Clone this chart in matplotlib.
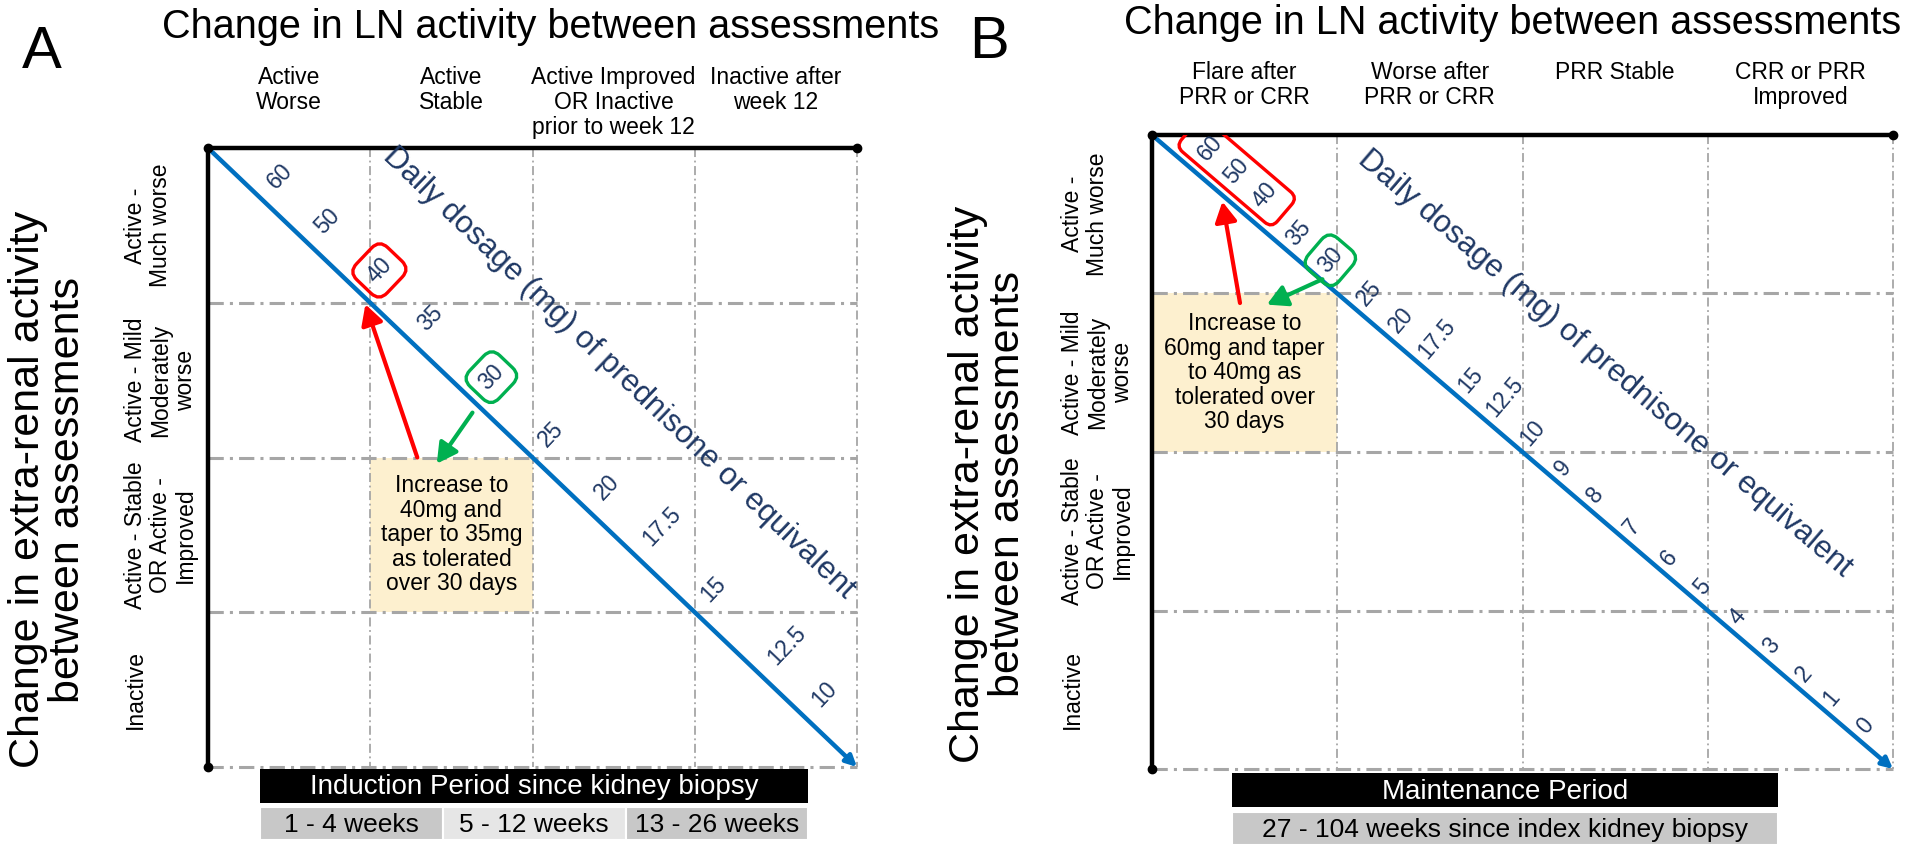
import math
import matplotlib
matplotlib.use('Agg')
import matplotlib.pyplot as plt
from matplotlib.patches import Rectangle, FancyBboxPatch
from matplotlib.transforms import Affine2D

plt.rcParams['font.family'] = ['Liberation Sans', 'DejaVu Sans']

# ---------------- data ----------------
title_text = 'Change in LN activity between assessments'
y_title = 'Change in extra-renal activity\nbetween assessments'
row_labels = ['Active -\nMuch worse',
              'Active - Mild\nModerately\nworse',
              'Active - Stable\nOR Active -\nImproved',
              'Inactive']
col_labels_A = ['Active\nWorse', 'Active\nStable',
                'Active Improved\nOR Inactive\nprior to week 12',
                'Inactive after\nweek 12']
col_labels_B = ['Flare after\nPRR or CRR', 'Worse after\nPRR or CRR',
                'PRR Stable', 'CRR or PRR\nImproved']
doses_A = ['60', '50', '40', '35', '30', '25', '20', '17.5', '15', '12.5', '10']
dose_pos_A = [0.32, 0.61, 0.93, 1.24, 1.62, 1.99, 2.33, 2.63, 2.99, 3.40, 3.67]
doses_B = ['60', '50', '40', '35', '30', '25', '20', '17.5', '15', '12.5', '10',
           '9', '8', '7', '6', '5', '4', '3', '2', '1', '0']
dose_pos_B = [0.215, 0.36, 0.51, 0.72, 0.89, 1.10, 1.27, 1.43, 1.645, 1.80, 1.98,
              2.17, 2.34, 2.54, 2.74, 2.92, 3.11, 3.29, 3.47, 3.62, 3.80]
dose_axis_label = 'Daily dosage (mg) of prednisone or equivalent'
red_doses_A = ['40']
green_doses_A = ['30']
red_doses_B = ['60', '50', '40']
green_doses_B = ['30']
note_A = 'Increase to\n40mg and\ntaper to 35mg\nas tolerated\nover 30 days'
note_B = 'Increase to\n60mg and taper\nto 40mg as\ntolerated over\n30 days'
note_cell_A = (1, 2)   # (column, row)
note_cell_B = (0, 1)
red_arrow_A = [(1.29, 2.00), (0.97, 1.01)]     # tail, head (cell units)
green_arrow_A = [(1.63, 1.71), (1.41, 2.04)]
red_arrow_B = [(0.475, 1.06), (0.38, 0.42)]
green_arrow_B = [(0.92, 0.91), (0.62, 1.07)]
period_A = 'Induction Period since kidney biopsy'
weeks_A = ['1 - 4 weeks', '5 - 12 weeks', '13 - 26 weeks']
period_B = 'Maintenance Period'
weeks_B = ['27 - 104 weeks since index kidney biopsy']

# ---------------- style ----------------
NAVY = '#1f3864'
BLUE = '#0070c0'
RED = '#ff0000'
GREEN = '#00b050'
YELLOW = '#fdf0cf'
GRID = '#a6a6a6'
DARKCELL = '#c8c8c8'
LIGHTCELL = '#e6e6e6'

W, H = 1920, 847
fig = plt.figure(figsize=(W / 100, H / 100), dpi=100)


def px_axes(left, top, right, bottom):
    return fig.add_axes([left / W, 1 - bottom / H, (right - left) / W, (bottom - top) / H])


def ftext(x, y, s, **kw):
    fig.text(x / W, 1 - y / H, s, **kw)


def draw_panel(ax, letter, letter_xy, title_xy, title_size, col_labels, header_off,
               rowlab_off, ylab_off, doses, dose_pos, gap_px, box_gap,
               red_doses, green_doses, note, note_cell, red_arrow, green_arrow,
               period, weeks, bar_x, bar_y):
    n = 4
    ax.set_xlim(0, n)
    ax.set_ylim(n, 0)
    ax.axis('off')

    # yellow note cell
    c, r = note_cell
    ax.add_patch(Rectangle((c, r), 1, 1, fc=YELLOW, ec='none', zorder=0.5))
    ax.text(c + 0.5, r + 0.5, note, ha='center', va='center', fontsize=16.5,
            linespacing=1.08, zorder=2)

    # grid
    for i in range(1, n + 1):
        ax.plot([i, i], [0, n], color=GRID, lw=1.3, ls=(0, (5, 2, 1, 2)),
                zorder=1, clip_on=False)
        ax.plot([0, n], [i, i], color=GRID, lw=2.2, ls=(0, (5, 2, 1, 2)),
                zorder=1, clip_on=False)
    ax.plot([0, n], [0, 0], color='black', lw=3.2, zorder=3, clip_on=False)
    ax.plot([0, 0], [0, n], color='black', lw=3.2, zorder=3, clip_on=False)
    ax.plot([0, n, 0], [0, 0, n], 'o', color='black', ms=6, zorder=4, clip_on=False)

    # column headers
    for i, lab in enumerate(col_labels):
        ax.annotate(lab, xy=(i + 0.5, 0), xytext=(0, header_off),
                    textcoords='offset pixels', ha='center', va='top',
                    fontsize=16.5, linespacing=1.12, annotation_clip=False)
    # row labels
    for j, lab in enumerate(row_labels):
        ax.annotate(lab, xy=(0, j + 0.5), xytext=(rowlab_off, 0),
                    textcoords='offset pixels', ha='left', va='center',
                    rotation=90, fontsize=16.5, linespacing=1.12,
                    multialignment='center', annotation_clip=False)
    # big y label
    ax.annotate(y_title, xy=(0, 2.0), xytext=(ylab_off, -32),
                textcoords='offset pixels', ha='center', va='center',
                rotation=90, fontsize=31, linespacing=0.97,
                multialignment='center', annotation_clip=False)

    # diagonal dose line
    ax.annotate('', xy=(n, n), xytext=(0, 0),
                arrowprops=dict(arrowstyle='-|>', color=BLUE, lw=3.2,
                                shrinkA=0, shrinkB=0, mutation_scale=16),
                zorder=3, annotation_clip=False)
    p0 = ax.transData.transform((0, 0))
    p1 = ax.transData.transform((n, n))
    ang = math.degrees(math.atan2(p1[1] - p0[1], p1[0] - p0[0]))
    perp = ang + 90
    nx, ny = math.cos(math.radians(perp)), math.sin(math.radians(perp))
    for lab, s in zip(doses, dose_pos):
        g = box_gap if lab in red_doses and len(red_doses) > 1 else gap_px
        bbox = None
        if lab in red_doses and len(red_doses) == 1:
            bbox = dict(boxstyle='round,pad=0.42,rounding_size=0.5', fc='none',
                        ec=RED, lw=2.4)
        if lab in green_doses:
            bbox = dict(boxstyle='round,pad=0.38,rounding_size=0.5', fc='none',
                        ec=GREEN, lw=2.4)
        ax.annotate(lab, xy=(s, s), xytext=(nx * g, ny * g),
                    textcoords='offset pixels', rotation=perp,
                    rotation_mode='anchor', ha='left', va='center',
                    fontsize=16.5, color=NAVY, bbox=bbox, zorder=5,
                    annotation_clip=False)
    # multi-label red box
    if len(red_doses) > 1:
        idx = [doses.index(d) for d in red_doses]
        s0, s1 = dose_pos[min(idx)], dose_pos[max(idx)]
        q0 = ax.transData.transform((s0, s0))
        q1 = ax.transData.transform((s1, s1))
        off = box_gap + 12
        cx = (q0[0] + q1[0]) / 2 + nx * off
        cy = (q0[1] + q1[1]) / 2 + ny * off
        length = math.hypot(q1[0] - q0[0], q1[1] - q0[1]) + 54
        width = 40
        patch = FancyBboxPatch((-length / 2, -width / 2), length, width,
                               boxstyle='round,pad=0,rounding_size=9',
                               fc='none', ec=RED, lw=2.4, zorder=5,
                               transform=Affine2D().rotate_deg(ang).translate(cx, cy))
        ax.add_patch(patch)

    # dose axis label
    sm = 2.02
    ax.annotate(dose_axis_label, xy=(sm, sm), xytext=(nx * 121, ny * 121),
                textcoords='offset pixels', rotation=ang, rotation_mode='anchor',
                ha='center', va='center', fontsize=22.5, color=NAVY,
                annotation_clip=False)

    # arrows
    for (tail, head), col in ((red_arrow, RED), (green_arrow, GREEN)):
        ax.annotate('', xy=head, xytext=tail,
                    arrowprops=dict(arrowstyle='-|>,head_length=0.55,head_width=0.3',
                                    color=col, lw=3, shrinkA=0, shrinkB=0,
                                    mutation_scale=22),
                    zorder=6, annotation_clip=False)

    # period bars
    x0, x1 = bar_x
    (b0, b1), (g0, g1) = bar_y
    ax.add_patch(Rectangle((x0, b0), x1 - x0, b1 - b0, fc='black', ec='none',
                           zorder=4, clip_on=False))
    ax.text((x0 + x1) / 2, (b0 + b1) / 2 + 0.01, period, ha='center', va='center',
            color='white', fontsize=20, zorder=5, clip_on=False)
    wcell = (x1 - x0) / len(weeks)
    for k, wk in enumerate(weeks):
        fc = DARKCELL if k % 2 == 0 else LIGHTCELL
        ax.add_patch(Rectangle((x0 + k * wcell, g0), wcell, g1 - g0, fc=fc,
                               ec='white', lw=1.5, zorder=4, clip_on=False))
        ax.text(x0 + (k + 0.5) * wcell, (g0 + g1) / 2 + 0.01, wk, ha='center',
                va='center', fontsize=19, zorder=5, clip_on=False)

    # letter and title
    ftext(letter_xy[0], letter_xy[1], letter, ha='center', va='center', fontsize=43)
    ftext(title_xy[0], title_xy[1], title_text, ha='left', va='center',
          fontsize=title_size)


axA = px_axes(208, 148, 857, 767)
axB = px_axes(1152, 135, 1893, 769)

draw_panel(axA, 'A', (42, 52), (162, 27), 28.5, col_labels_A, 82, -84, -160,
           doses_A, dose_pos_A, 17, 17, red_doses_A, green_doses_A,
           note_A, note_cell_A, red_arrow_A, green_arrow_A,
           period_A, weeks_A, (0.32, 3.70), ((4.013, 4.23), (4.26, 4.47)))
draw_panel(axB, 'B', (989, 42), (1124, 23), 28.5, col_labels_B, 74, -91, -164,
           doses_B, dose_pos_B, 8, 15, red_doses_B, green_doses_B,
           note_B, note_cell_B, red_arrow_B, green_arrow_B,
           period_B, weeks_B, (0.43, 3.38), ((4.025, 4.24), (4.27, 4.48)))

fig.savefig('out.png', dpi=100)
